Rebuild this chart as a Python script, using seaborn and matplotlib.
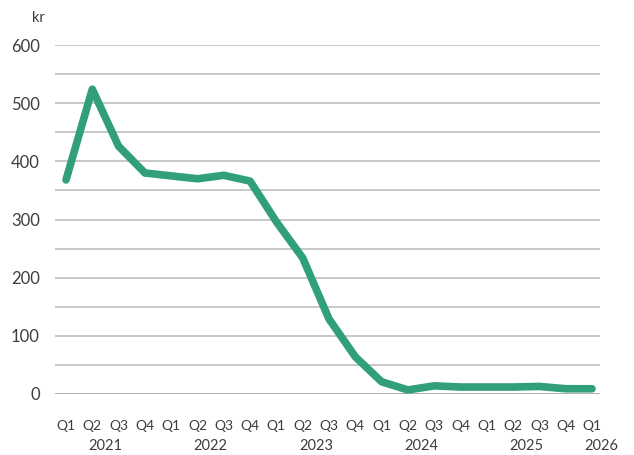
import numpy as np
import pandas as pd
import matplotlib
matplotlib.use('Agg')
import matplotlib.pyplot as plt
import seaborn as sns

quarters = ['Q1', 'Q2', 'Q3', 'Q4'] * 5 + ['Q1']
years = ['2021', '2022', '2023', '2024', '2025', '2026']
values = [368, 524, 426, 380, 375, 370, 376, 366,
          296, 234, 129, 64, 21, 7, 14, 12, 12, 12, 13, 9, 9]

df = pd.DataFrame({'idx': np.arange(len(values)), 'kr': values})

sns.set_style('white')
plt.rcParams['font.family'] = ['Lato', 'DejaVu Sans']
text_col = '#3d3d3d'

fig = plt.figure(figsize=(6.34, 4.55), dpi=100)
ax = fig.add_axes([55/634, 1-394/455, 545/634, 349/455])

# gitterlinjer hver 50
for v in range(0, 650, 50):
    ax.axhline(v, color='#a8a8a8' if v == 0 else '#c4c4c4', lw=1.3, zorder=0)

sns.lineplot(data=df, x='idx', y='kr', color='#31a07a', lw=5.5, ax=ax,
             solid_joinstyle='round', solid_capstyle='round', clip_on=False)

ax.set_ylim(0, 600)
ax.set_xlim(-11/26.3, 20 + 8/26.3)
ax.set_yticks(range(0, 700, 100))
ax.tick_params(axis='y', labelsize=12, colors=text_col, length=0, pad=11)
ax.set_xticks(df['idx'])
ax.set_xticklabels(quarters)
ax.tick_params(axis='x', labelsize=10, colors=text_col, length=0, pad=19)
ax.set_xlabel('')
ax.set_ylabel('')
sns.despine(ax=ax, left=True, bottom=True)

# årstall under kvartalene
year_pos = [1.5, 5.5, 9.5, 13.5, 17.5, 20.35]
for yp, yr in zip(year_pos, years):
    ax.text(yp, -89, yr, ha='center', va='center',
            fontsize=10.5, color=text_col, clip_on=False)

fig.text(38/634, 1-18/455, 'kr', ha='center', va='center', fontsize=10.5, color=text_col)

fig.savefig('out.png', dpi=100)
